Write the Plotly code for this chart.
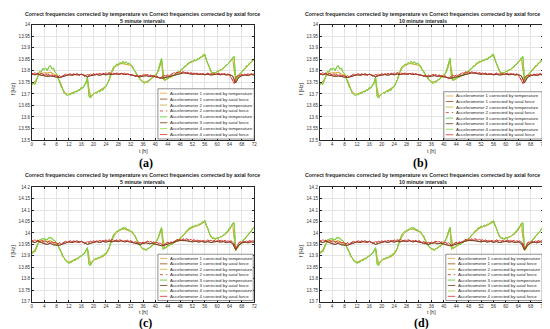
import plotly.graph_objects as go

W, H = 550, 329

# ---------------- data ----------------
HOURS_HALF = [i * 0.5 for i in range(145)]   # 0 .. 72 h, 0.5 h step
HOURS_FULL = list(range(73))                 # 0 .. 72 h, 1 h step

X_TICKS = [0, 4, 8, 12, 16, 20, 24, 28, 32, 36, 40, 44, 48, 52, 56, 60, 64, 68, 72]
Y_TICKS_AB = [13.5, 13.55, 13.6, 13.65, 13.7, 13.75, 13.8, 13.85, 13.9, 13.95, 14.0]
Y_LABELS_AB = ["13.5", "13.55", "13.6", "13.65", "13.7", "13.75", "13.8", "13.85", "13.9", "13.95", "14"]
Y_TICKS_CD = [13.7, 13.75, 13.8, 13.85, 13.9, 13.95, 14.0, 14.05, 14.1, 14.15, 14.2]
Y_LABELS_CD = ["13.7", "13.75", "13.8", "13.85", "13.9", "13.95", "14", "14.05", "14.1", "14.15", "14.2"]

LABELS = [
    "Accelerometer 1 corrected by temperature",
    "Accelerometer 1 corrected by axial force",
    "Accelerometer 2 corrected by temperature",
    "Accelerometer 2 corrected by axial force",
    "Accelerometer 3 corrected by temperature",
    "Accelerometer 3 corrected by axial force",
    "Accelerometer 4 corrected by temperature",
    "Accelerometer 4 corrected by axial force",
]

# panels (a)/(b): temperature-corrected, half-hourly
TEMP_A = [
    13.738,
    13.745, 13.741, 13.762, 13.780, 13.798, 13.794, 13.810, 13.806,
    13.812, 13.801, 13.818, 13.822, 13.808, 13.812, 13.794, 13.788,
    13.768, 13.754, 13.732, 13.720, 13.702, 13.700, 13.692, 13.698,
    13.696, 13.705, 13.701, 13.710, 13.708, 13.718, 13.715, 13.728,
    13.724, 13.738, 13.746, 13.774, 13.690, 13.682, 13.694, 13.698,
    13.706, 13.703, 13.712, 13.709, 13.718, 13.715, 13.728, 13.732,
    13.748, 13.760, 13.785, 13.800, 13.818, 13.820, 13.830, 13.826,
    13.836, 13.832, 13.841, 13.834, 13.840, 13.831, 13.834, 13.826,
    13.822, 13.806, 13.798, 13.784, 13.776, 13.762, 13.758, 13.750,
    13.746, 13.752, 13.750, 13.760, 13.762, 13.772, 13.774, 13.784,
    13.788, 13.808, 13.828, 13.854, 13.766, 13.758, 13.766, 13.765,
    13.774, 13.772, 13.782, 13.780, 13.789, 13.788, 13.798, 13.797,
    13.808, 13.810, 13.821, 13.822, 13.833, 13.834, 13.842, 13.840,
    13.848, 13.843, 13.852, 13.850, 13.860, 13.858, 13.870, 13.872,
    13.848, 13.832, 13.810, 13.800, 13.790, 13.793, 13.791, 13.798,
    13.798, 13.806, 13.805, 13.814, 13.816, 13.826, 13.828, 13.840,
    13.844, 13.857, 13.862, 13.758, 13.772, 13.778, 13.790, 13.794,
    13.806, 13.810, 13.822, 13.824, 13.834, 13.838, 13.848, 13.850,
]
# panels (a)/(b): temperature-corrected, second sensor group, hourly
TEMP_A_2 = [
    13.745,
    13.752, 13.775, 13.788, 13.792,
    13.790, 13.794, 13.788, 13.780,
    13.758, 13.722, 13.702, 13.698,
    13.704, 13.708, 13.715, 13.722,
    13.735, 13.765, 13.688, 13.700,
    13.708, 13.714, 13.722, 13.732,
    13.758, 13.798, 13.818, 13.826,
    13.832, 13.830, 13.828, 13.824,
    13.806, 13.785, 13.765, 13.754,
    13.752, 13.760, 13.770, 13.778,
    13.798, 13.845, 13.758, 13.765,
    13.772, 13.780, 13.788, 13.798,
    13.810, 13.822, 13.834, 13.840,
    13.844, 13.850, 13.860, 13.868,
    13.828, 13.796, 13.790, 13.795,
    13.802, 13.810, 13.822, 13.836,
    13.855, 13.758, 13.778, 13.794,
    13.810, 13.824, 13.838, 13.848,
]
# panels (a)/(b): axial-force-corrected, half-hourly
AXIAL_A = [
    13.790,
    13.786, 13.792, 13.788, 13.790, 13.784, 13.790, 13.787, 13.782,
    13.786, 13.781, 13.784, 13.779, 13.783, 13.778, 13.781, 13.777,
    13.775, 13.779, 13.774, 13.778, 13.782, 13.786, 13.781, 13.785,
    13.788, 13.783, 13.787, 13.784, 13.789, 13.785, 13.781, 13.786,
    13.783, 13.776, 13.780, 13.784, 13.781, 13.786, 13.783, 13.787,
    13.784, 13.788, 13.785, 13.789, 13.786, 13.790, 13.787, 13.791,
    13.788, 13.792, 13.789, 13.786, 13.790, 13.787, 13.791, 13.788,
    13.785, 13.789, 13.786, 13.790, 13.784, 13.788, 13.785, 13.781,
    13.784, 13.779, 13.776, 13.780, 13.777, 13.781, 13.778, 13.782,
    13.785, 13.781, 13.784, 13.779, 13.782, 13.777, 13.780, 13.775,
    13.778, 13.772, 13.766, 13.772, 13.776, 13.780, 13.777, 13.782,
    13.779, 13.784, 13.788, 13.792, 13.789, 13.795, 13.791, 13.796,
    13.792, 13.797, 13.793, 13.790, 13.794, 13.789, 13.792, 13.788,
    13.791, 13.787, 13.790, 13.786, 13.789, 13.785, 13.788, 13.784,
    13.787, 13.790, 13.786, 13.789, 13.785, 13.788, 13.784, 13.787,
    13.790, 13.786, 13.789, 13.785, 13.788, 13.784, 13.787, 13.782,
    13.772, 13.760, 13.745, 13.768, 13.778, 13.782, 13.779, 13.784,
    13.781, 13.786, 13.783, 13.787, 13.784, 13.788, 13.785, 13.786,
]
# panels (a)/(b): axial-force-corrected, second group, hourly
AXIAL_A_2 = [
    13.786,
    13.783, 13.787, 13.781, 13.779,
    13.776, 13.778, 13.774, 13.773,
    13.771, 13.776, 13.780, 13.783,
    13.781, 13.784, 13.782, 13.785,
    13.781, 13.774, 13.779, 13.782,
    13.784, 13.781, 13.785, 13.783,
    13.786, 13.784, 13.787, 13.785,
    13.788, 13.784, 13.786, 13.783,
    13.780, 13.776, 13.774, 13.777,
    13.779, 13.776, 13.778, 13.774,
    13.772, 13.768, 13.770, 13.774,
    13.777, 13.781, 13.785, 13.789,
    13.791, 13.790, 13.787, 13.785,
    13.787, 13.784, 13.786, 13.783,
    13.785, 13.782, 13.784, 13.786,
    13.783, 13.785, 13.782, 13.784,
    13.778, 13.748, 13.772, 13.779,
    13.782, 13.780, 13.784, 13.782,
]

# panels (c)/(d)
TEMP_C = [
    13.908,
    13.916, 13.918, 13.936, 13.955, 13.970, 13.972, 13.975, 13.974,
    13.972, 13.970, 13.980, 13.979, 13.977, 13.968, 13.966, 13.952,
    13.946, 13.928, 13.916, 13.897, 13.890, 13.877, 13.874, 13.866,
    13.873, 13.872, 13.880, 13.879, 13.888, 13.887, 13.897, 13.898,
    13.907, 13.910, 13.924, 13.936, 13.862, 13.858, 13.874, 13.882,
    13.888, 13.887, 13.893, 13.891, 13.899, 13.900, 13.908, 13.910,
    13.924, 13.934, 13.957, 13.974, 13.994, 14.000, 14.008, 14.008,
    14.016, 14.016, 14.024, 14.021, 14.022, 14.014, 14.014, 14.006,
    14.006, 13.994, 13.987, 13.970, 13.960, 13.944, 13.938, 13.928,
    13.928, 13.923, 13.932, 13.934, 13.942, 13.944, 13.954, 13.958,
    13.970, 13.982, 14.006, 14.024, 13.928, 13.936, 13.936, 13.946,
    13.944, 13.952, 13.951, 13.959, 13.960, 13.968, 13.968, 13.978,
    13.980, 13.992, 13.996, 14.008, 14.012, 14.022, 14.022, 14.030,
    14.028, 14.034, 14.032, 14.038, 14.038, 14.046, 14.048, 14.055,
    14.034, 14.020, 13.998, 13.986, 13.976, 13.978, 13.973, 13.979,
    13.977, 13.984, 13.984, 13.992, 13.994, 14.004, 14.008, 14.022,
    14.028, 14.042, 14.044, 13.925, 13.934, 13.942, 13.954, 13.958,
    13.970, 13.974, 13.986, 13.990, 14.002, 14.006, 14.020, 14.026,
]
TEMP_C_2 = [
    13.915,
    13.925, 13.955, 13.965, 13.968,
    13.962, 13.966, 13.958, 13.950,
    13.932, 13.902, 13.880, 13.872,
    13.878, 13.884, 13.892, 13.900,
    13.910, 13.932, 13.864, 13.880,
    13.886, 13.890, 13.896, 13.906,
    13.930, 13.970, 13.996, 14.006,
    14.014, 14.018, 14.012, 14.006,
    13.992, 13.968, 13.945, 13.932,
    13.928, 13.934, 13.944, 13.955,
    13.978, 14.020, 13.932, 13.940,
    13.948, 13.956, 13.964, 13.974,
    13.988, 14.002, 14.016, 14.024,
    14.028, 14.032, 14.040, 14.050,
    14.016, 13.982, 13.974, 13.976,
    13.980, 13.988, 13.998, 14.014,
    14.038, 13.922, 13.944, 13.958,
    13.974, 13.990, 14.006, 14.024,
]
AXIAL_C = [
    13.968,
    13.964, 13.970, 13.966, 13.968, 13.962, 13.967, 13.964, 13.960,
    13.964, 13.959, 13.962, 13.957, 13.961, 13.956, 13.959, 13.955,
    13.953, 13.957, 13.952, 13.956, 13.960, 13.964, 13.959, 13.963,
    13.966, 13.961, 13.965, 13.962, 13.967, 13.963, 13.959, 13.964,
    13.961, 13.955, 13.958, 13.962, 13.959, 13.964, 13.961, 13.965,
    13.962, 13.966, 13.963, 13.967, 13.964, 13.968, 13.965, 13.969,
    13.966, 13.970, 13.967, 13.971, 13.968, 13.965, 13.969, 13.966,
    13.970, 13.967, 13.963, 13.967, 13.964, 13.968, 13.963, 13.966,
    13.962, 13.958, 13.962, 13.957, 13.955, 13.959, 13.956, 13.960,
    13.957, 13.961, 13.964, 13.960, 13.963, 13.958, 13.961, 13.956,
    13.959, 13.954, 13.957, 13.951, 13.945, 13.951, 13.955, 13.959,
    13.956, 13.961, 13.958, 13.963, 13.967, 13.971, 13.968, 13.973,
    13.969, 13.974, 13.970, 13.975, 13.971, 13.968, 13.972, 13.967,
    13.970, 13.966, 13.969, 13.965, 13.968, 13.964, 13.967, 13.963,
    13.966, 13.969, 13.965, 13.968, 13.964, 13.967, 13.963, 13.966,
    13.969, 13.965, 13.968, 13.964, 13.967, 13.963, 13.966, 13.962,
    13.965, 13.961, 13.952, 13.930, 13.948, 13.957, 13.961, 13.958,
    13.963, 13.960, 13.965, 13.962, 13.966, 13.963, 13.967, 13.964,
]
AXIAL_C_2 = [
    13.962,
    13.958, 13.964, 13.957, 13.953,
    13.950, 13.955, 13.948, 13.947,
    13.946, 13.952, 13.957, 13.961,
    13.958, 13.962, 13.959, 13.963,
    13.957, 13.950, 13.955, 13.959,
    13.962, 13.958, 13.963, 13.960,
    13.964, 13.961, 13.965, 13.962,
    13.966, 13.961, 13.963, 13.960,
    13.956, 13.952, 13.950, 13.954,
    13.957, 13.953, 13.955, 13.951,
    13.949, 13.944, 13.947, 13.952,
    13.956, 13.960, 13.964, 13.967,
    13.968, 13.966, 13.963, 13.961,
    13.964, 13.960, 13.963, 13.959,
    13.962, 13.958, 13.961, 13.963,
    13.960, 13.962, 13.958, 13.961,
    13.954, 13.926, 13.948, 13.956,
    13.960, 13.957, 13.961, 13.959,
]

for arr in (TEMP_A, AXIAL_A, TEMP_C, AXIAL_C):
    assert len(arr) == len(HOURS_HALF), len(arr)
for arr in (TEMP_A_2, AXIAL_A_2, TEMP_C_2, AXIAL_C_2):
    assert len(arr) == len(HOURS_FULL), len(arr)

# ---------------- styles ----------------
STYLES = [
    dict(color="#e2a43a", dash="solid", width=0.9),
    dict(color="#8c4a1c", dash="solid", width=0.8),
    dict(color="#c9b037", dash="dash", width=0.9),
    dict(color="#c0392b", dash="dot", width=0.8),
    dict(color="#55c42a", dash="solid", width=1.0),
    dict(color="#6b3a12", dash="solid", width=0.8),
    dict(color="#8fd13f", dash="solid", width=0.9),
    dict(color="#d6282b", dash="solid", width=0.8),
]
DRAW_ORDER = [0, 2, 4, 6, 1, 5, 3, 7]

PANELS = [
    dict(box=(23, 15, 247, 132), yr=(13.5, 14.0), yt=Y_TICKS_AB, yl=Y_LABELS_AB,
         sub="5 minute intervals", temp=TEMP_A, temp2=TEMP_A_2, ax=AXIAL_A, ax2=AXIAL_A_2,
         leg=(150, 80, 247, 131), tag="(a)", tagxy=(138, 155), xlab_y=143,
         title_x=134, title_y=(4, 11)),
    dict(box=(313, 15, 538, 132), yr=(13.5, 14.0), yt=Y_TICKS_AB, yl=Y_LABELS_AB,
         sub="10 minute intervals", temp=TEMP_A, temp2=TEMP_A_2, ax=AXIAL_A, ax2=AXIAL_A_2,
         leg=(438, 83, 537, 131), tag="(b)", tagxy=(415, 155), xlab_y=143,
         title_x=417, title_y=(4, 11)),
    dict(box=(23, 180, 247, 296), yr=(13.7, 14.2), yt=Y_TICKS_CD, yl=Y_LABELS_CD,
         sub="5 minute intervals", temp=TEMP_C, temp2=TEMP_C_2, ax=AXIAL_C, ax2=AXIAL_C_2,
         leg=(150, 248, 246, 295), tag="(c)", tagxy=(137, 318), xlab_y=307,
         title_x=134, title_y=(168, 175)),
    dict(box=(313, 180, 538, 296), yr=(13.7, 14.2), yt=Y_TICKS_CD, yl=Y_LABELS_CD,
         sub="10 minute intervals", temp=TEMP_C, temp2=TEMP_C_2, ax=AXIAL_C, ax2=AXIAL_C_2,
         leg=(440, 248, 537, 295), tag="(d)", tagxy=(416, 318), xlab_y=307,
         title_x=417, title_y=(168, 175)),
]

TITLE = "Correct frequencies corrected by temperature vs Correct frequencies corrected by axial force"
FONT = "Liberation Sans, Arial, sans-serif"


def px(x):
    return x / W


def py(y):
    return 1 - y / H


fig = go.Figure()
layout = dict(
    width=W, height=H, margin=dict(l=0, r=0, t=0, b=0),
    paper_bgcolor="white", plot_bgcolor="white", showlegend=False,
    font=dict(family=FONT, color="#262626"),
)
shapes, annotations = [], []

for i, p in enumerate(PANELS):
    n = "" if i == 0 else str(i + 1)
    xa, ya = "x" + n, "y" + n
    x0, y0, x1, y1 = p["box"]
    series = [
        (HOURS_FULL, p["temp2"]), (HOURS_FULL, p["ax2"]),
        (HOURS_FULL, p["temp2"]), (HOURS_HALF, p["ax"]),
        (HOURS_HALF, p["temp"]), (HOURS_FULL, p["ax2"]),
        (HOURS_HALF, p["temp"]), (HOURS_HALF, p["ax"]),
    ]
    for k in DRAW_ORDER:
        t, v = series[k]
        fig.add_trace(go.Scatter(
            x=t, y=v, mode="lines", name=LABELS[k], xaxis=xa, yaxis=ya,
            line=dict(color=STYLES[k]["color"], dash=STYLES[k]["dash"], width=STYLES[k]["width"]),
        ))
    common = dict(
        ticks="inside", ticklen=2, tickcolor="#262626", tickwidth=0.6,
        showline=True, linecolor="#262626", linewidth=0.6, mirror="allticks",
        showgrid=True, gridcolor="#e4e4e4", gridwidth=0.6, zeroline=False,
        tickfont=dict(size=4.6, color="#333333", family=FONT),
    )
    layout["xaxis" + n] = dict(
        domain=[px(x0), px(x1)], range=[0, 72], tickvals=X_TICKS,
        ticktext=[str(v) for v in X_TICKS], anchor=ya, **common)
    layout["yaxis" + n] = dict(
        domain=[py(y1), py(y0)], range=list(p["yr"]), tickvals=p["yt"],
        ticktext=p["yl"], anchor=xa, **common)

    cx = (x0 + x1) / 2
    # titles
    for txt, yy in ((TITLE, p["title_y"][0]), (p["sub"], p["title_y"][1])):
        annotations.append(dict(
            x=px(p["title_x"]), y=py(yy), xref="paper", yref="paper", text="<b>" + txt + "</b>",
            showarrow=False, xanchor="center", yanchor="middle",
            font=dict(size=5.3, color="#262626", family=FONT)))
    # axis labels
    annotations.append(dict(
        x=px(cx), y=py(p["xlab_y"]), xref="paper", yref="paper", text="t [h]",
        showarrow=False, xanchor="center", yanchor="middle",
        font=dict(size=5.2, color="#262626", family=FONT)))
    annotations.append(dict(
        x=px(x0 - 19), y=py((y0 + y1) / 2 + 6), xref="paper", yref="paper", text="f [Hz]",
        textangle=-90, showarrow=False, xanchor="center", yanchor="middle",
        font=dict(size=5.2, color="#262626", family=FONT)))
    # subplot tag
    annotations.append(dict(
        x=px(p["tagxy"][0]), y=py(p["tagxy"][1]), xref="paper", yref="paper",
        text="<b>" + p["tag"] + "</b>", showarrow=False, xanchor="center", yanchor="middle",
        font=dict(size=12, color="#000000", family="Liberation Serif, Times New Roman, serif")))

    # custom legend
    lx0, ly0, lx1, ly1 = p["leg"]
    shapes.append(dict(
        type="rect", xref="paper", yref="paper", x0=px(lx0), x1=px(lx1), y0=py(ly1), y1=py(ly0),
        line=dict(color="#262626", width=0.5), fillcolor="rgba(255,255,255,0.95)", layer="above"))
    step = (ly1 - ly0 - 3) / 8.0
    for k in range(8):
        yy = ly0 + 1.5 + (k + 0.5) * step
        shapes.append(dict(
            type="line", xref="paper", yref="paper", x0=px(lx0 + 2), x1=px(lx0 + 9.5),
            y0=py(yy), y1=py(yy), layer="above",
            line=dict(color=STYLES[k]["color"], dash=STYLES[k]["dash"], width=0.8)))
        annotations.append(dict(
            x=px(lx0 + 10.5), y=py(yy), xref="paper", yref="paper", text=LABELS[k],
            showarrow=False, xanchor="left", yanchor="middle",
            font=dict(size=4.4, color="#262626", family=FONT)))

layout["shapes"] = shapes
layout["annotations"] = annotations
fig.update_layout(**layout)
fig.write_html("out.html")
